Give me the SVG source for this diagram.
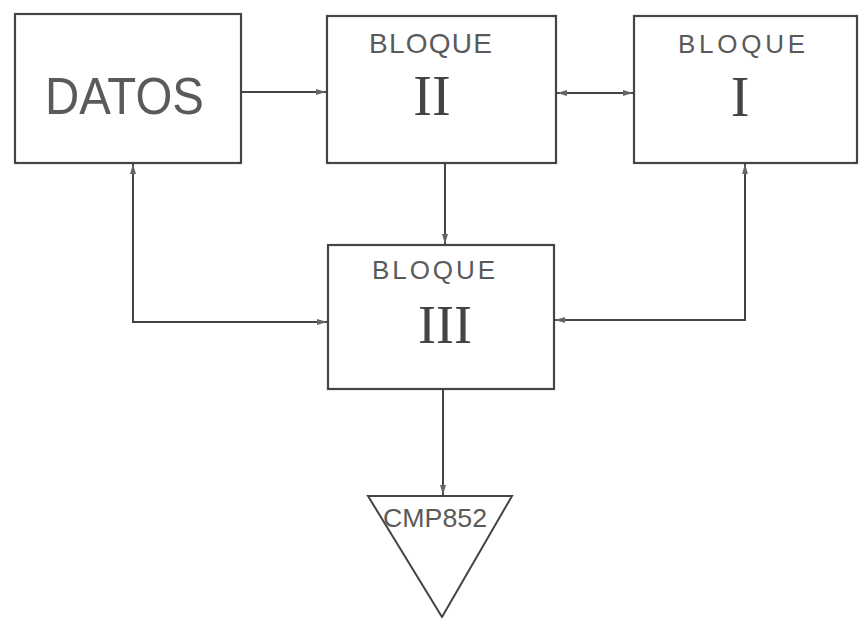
<svg xmlns="http://www.w3.org/2000/svg" width="859" height="618" viewBox="0 0 859 618">
<defs>
<marker id="ah" viewBox="0 0 10 6" refX="10" refY="3" markerWidth="10" markerHeight="6" markerUnits="userSpaceOnUse" orient="auto-start-reverse">
<path d="M0,0 L10,3 L0,6 Z" fill="#666"/>
</marker>
</defs>
<style>
.box{fill:#fff;stroke:#444;stroke-width:2.2}
.ln{fill:none;stroke:#444;stroke-width:2}
.lbl{font-family:"Liberation Sans","DejaVu Sans",sans-serif;fill:#5a5a5a}
.num{font-family:"Liberation Serif","DejaVu Serif",serif;fill:#444}
</style>
<rect width="859" height="618" fill="#fff"/>
<g id="connectors">
<line class="ln" x1="241" y1="92" x2="326" y2="92" marker-end="url(#ah)"/>
<line class="ln" x1="557" y1="93" x2="633" y2="93" marker-start="url(#ah)" marker-end="url(#ah)"/>
<line class="ln" x1="445" y1="164" x2="445" y2="244" marker-end="url(#ah)"/>
<polyline class="ln" points="327,322 133,322 133,164" marker-start="url(#ah)" marker-end="url(#ah)"/>
<polyline class="ln" points="555,320 745,320 745,164" marker-start="url(#ah)" marker-end="url(#ah)"/>
<line class="ln" x1="443" y1="390" x2="443" y2="495" marker-end="url(#ah)"/>
</g>
<g id="datos">
<rect class="box" x="15" y="14" width="226" height="149"/>
<text class="lbl" x="45" y="114" font-size="51" textLength="159" lengthAdjust="spacingAndGlyphs">DATOS</text>
</g>
<g id="bloque2">
<rect class="box" x="327" y="16" width="229" height="147"/>
<text class="lbl" x="369" y="53" font-size="28" textLength="123" lengthAdjust="spacing">BLOQUE</text>
<text class="num" x="432" y="115" font-size="56" text-anchor="middle">II</text>
</g>
<g id="bloque1">
<rect class="box" x="634" y="16" width="223" height="147"/>
<text class="lbl" x="678" y="53" font-size="26" textLength="127" lengthAdjust="spacing">BLOQUE</text>
<text class="num" x="740" y="116" font-size="56" text-anchor="middle">I</text>
</g>
<g id="bloque3">
<rect class="box" x="328" y="245" width="226" height="144"/>
<text class="lbl" x="372" y="279" font-size="26" textLength="123" lengthAdjust="spacing">BLOQUE</text>
<text class="num" x="445" y="343" font-size="54" text-anchor="middle">III</text>
</g>
<g id="cmp852">
<polygon points="368,496 512,496 442,617" fill="#fff" stroke="#444" stroke-width="2"/>
<text class="lbl" x="383" y="527" font-size="26" textLength="104" lengthAdjust="spacingAndGlyphs">CMP852</text>
</g>
</svg>
